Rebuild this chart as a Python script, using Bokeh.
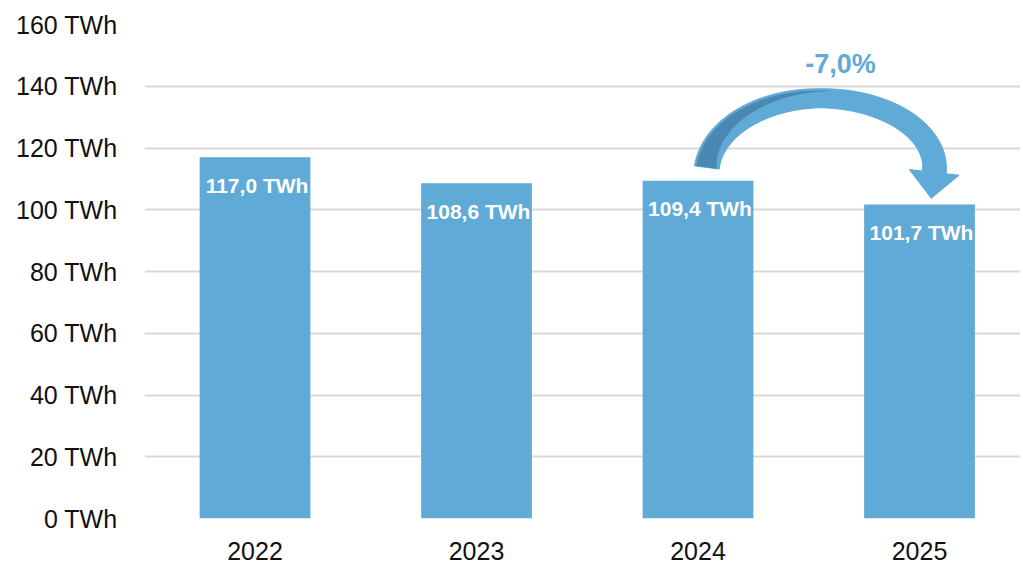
import numpy as np
from bokeh.plotting import figure
from bokeh.models import Range1d, ColumnDataSource, LabelSet, Label, FixedTicker
from bokeh.core.properties import value
from bokeh.embed import file_html
from bokeh.resources import INLINE

# ---- data ----
years = ["2022", "2023", "2024", "2025"]
values = [117.0, 108.6, 109.4, 101.7]
y_ticks = [0, 20, 40, 60, 80, 100, 120, 140, 160]
y_tick_labels = [f"{t} TWh" for t in y_ticks]
value_labels = [f"{v:.1f}".replace(".", ",") + " TWh" for v in values]
change = (values[3] / values[2] - 1) * 100
change_label = f"{change:.1f}".replace(".", ",") + "%"

BAR = "#5FAAD6"
DARK = "#4A87B2"
GRID = "#D9D9D9"
FONT = "Liberation Sans"

FW, FH = 876, 494
BL, BT = 144, 24
x0, x1 = -0.499, 3.456
y0, y1 = 0, 160

p = figure(frame_width=FW, frame_height=FH, x_range=Range1d(x0, x1), y_range=Range1d(y0, y1),
           output_backend="svg", toolbar_location=None,
           min_border_left=BL, min_border_right=0, min_border_top=BT, min_border_bottom=46)
p.outline_line_color = None
p.background_fill_color = "white"
p.border_fill_color = "white"

idx = list(range(len(years)))
src = ColumnDataSource(dict(x=idx, top=values, label=value_labels))
p.vbar(x="x", top="top", width=0.5, source=src, fill_color=BAR, line_color=None)

# axes
p.xgrid.visible = False
p.ygrid.grid_line_color = GRID
p.ygrid.grid_line_width = 2
p.yaxis.ticker = FixedTicker(ticks=y_ticks)
p.yaxis.major_label_overrides = {t: l for t, l in zip(y_ticks, y_tick_labels)}
p.xaxis.ticker = FixedTicker(ticks=idx)
p.xaxis.major_label_overrides = {i: y for i, y in zip(idx, years)}
for ax in (p.xaxis, p.yaxis):
    ax.axis_line_color = None
    ax.major_tick_line_color = None
    ax.minor_tick_line_color = None
    ax.major_tick_in = 0
    ax.major_tick_out = 0
    ax.major_label_text_font = FONT
    ax.major_label_text_font_size = "25px"
    ax.major_label_text_color = "#111111"
p.yaxis.major_label_standoff = 27
p.xaxis.major_label_standoff = 23

labels = LabelSet(x="x", y="top", text="label", source=src, y_offset=-28, x_offset=2,
                  text_align="center", text_baseline="middle", text_color="white",
                  text_font=value(FONT), text_font_style="bold", text_font_size="21px")
p.add_layout(labels)

# ---- curved arrow from 2024 bar to 2025 bar ----
sx = FW / (x1 - x0)
sy = FH / (y1 - y0)
cx_px = ((idx[2] + idx[3]) / 2 + 0.053) * sx
apex_px = (values[2] + 26.7) * sy          # centreline apex (pixel, up)
start_px = (values[2] + 4.3) * sy           # centreline start height
end_px = (values[3] + 10.4) * sy            # arrowhead base centre height
rx = 114.0
tL0 = np.radians(175)
ryL = (apex_px - start_px) / (1 - np.sin(tL0))
te = np.radians(-4)
ryR = (apex_px - end_px) / (1 - np.sin(te))

def curve(t):
    right = t < np.pi / 2
    ry = np.where(right, ryR, ryL)
    cy = apex_px - ry
    x = cx_px + rx * np.cos(t)
    y = cy + ry * np.sin(t)
    nx = np.cos(t) / rx
    ny = np.sin(t) / ry
    nn = np.hypot(nx, ny)
    return x, y, nx / nn, ny / nn

t = np.linspace(tL0, te, 160)
cxs, cys, nxs, nys = curve(t)
h = np.interp(np.degrees(t), [-4, 90, 175], [12.0, 9.5, 12.5])
ox, oy = cxs + h * nxs, cys + h * nys
ix, iy = cxs - h * nxs, cys - h * nys

# arrowhead
bx, by = cxs[-1], cys[-1]
dx, dy = rx * np.sin(te), -ryR * np.cos(te)
dn = np.hypot(dx, dy)
dx, dy = dx / dn, dy / dn
px_, py_ = -dy, dx
hw, hl = 25.0, 26.0
head_x = [bx + hw * px_, bx + hl * dx, bx - hw * px_]
head_y = [by + hw * py_, by + hl * dy, by - hw * py_]

shaft_x = np.concatenate([ox, ix[::-1]])
shaft_y = np.concatenate([oy, iy[::-1]])
p.patch(shaft_x / sx, shaft_y / sy, fill_color=BAR, line_color=BAR, line_width=1)
p.patch(np.array(head_x) / sx, np.array(head_y) / sy, fill_color=BAR, line_color=BAR, line_width=1)

# darker underside on the rising part
mask = np.degrees(t) >= 84
tm = np.degrees(t[mask])
frac = np.clip((tm - 84) / (175 - 84), 0, 1)
hm = h[mask]
outer_off = hm - 2.0
inner_off = outer_off - frac * (2 * hm - 4.5)
dox = cxs[mask] + outer_off * nxs[mask]
doy = cys[mask] + outer_off * nys[mask]
dix = cxs[mask] + inner_off * nxs[mask]
diy = cys[mask] + inner_off * nys[mask]
p.patch(np.concatenate([dox, dix[::-1]]) / sx, np.concatenate([doy, diy[::-1]]) / sy,
        fill_color=DARK, line_color=None)

# change label
lab = Label(x=(cx_px + 20) / sx, y=(apex_px + h[np.argmin(np.abs(np.degrees(t) - 90))] + 25) / sy,
            text=change_label, text_align="center", text_baseline="middle",
            text_color=BAR, text_font=FONT, text_font_style="bold", text_font_size="27px")
p.add_layout(lab)

open("out.html", "w").write(file_html(p, INLINE))
